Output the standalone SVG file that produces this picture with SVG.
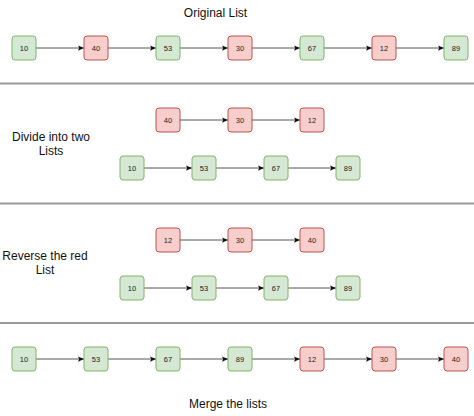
<svg xmlns="http://www.w3.org/2000/svg" width="474" height="416" viewBox="0 0 474 416">
<style>
.g rect{fill:#d5e8d4;stroke:#82b366;stroke-width:1}
.r rect{fill:#f8cecc;stroke:#b85450;stroke-width:1}
.n text{font-family:"Liberation Sans",Arial,sans-serif;font-size:7.5px;fill:#222;text-anchor:middle;dominant-baseline:central}
.lbl{font-family:"Liberation Sans",Arial,sans-serif;font-size:12px;fill:#111;text-anchor:middle}
.sep{stroke:#999;stroke-width:2}
.c line{stroke:#555;stroke-width:1;marker-end:url(#ah)}
</style>
<defs>
<marker id="ah" viewBox="0 0 8 8" refX="8" refY="4" markerWidth="6" markerHeight="6" markerUnits="userSpaceOnUse" orient="auto">
<path d="M0,0.5 L8,4 L0,7.5 L1.6,4 Z" fill="#111"/>
</marker>
</defs>
<rect width="474" height="416" fill="#fff"/>
<g id="separators">
<line class="sep" x1="0" y1="83.5" x2="474" y2="83.5"/>
<line class="sep" x1="0" y1="203.5" x2="474" y2="203.5"/>
<line class="sep" x1="0" y1="323" x2="474" y2="323"/>
</g>
<g id="labels">
<text class="lbl" x="215.5" y="17">Original List</text>
<text class="lbl" x="51" y="141">Divide into two</text>
<text class="lbl" x="51" y="155">Lists</text>
<text class="lbl" x="45" y="260">Reverse the red</text>
<text class="lbl" x="45" y="274">List</text>
<text class="lbl" x="228" y="408">Merge the lists</text>
</g>
<g id="connectors" class="c">
<line x1="36" y1="48" x2="84" y2="48"/>
<line x1="108" y1="48" x2="156" y2="48"/>
<line x1="180" y1="48" x2="228" y2="48"/>
<line x1="252" y1="48" x2="300" y2="48"/>
<line x1="324" y1="48" x2="372" y2="48"/>
<line x1="396" y1="48" x2="444" y2="48"/>
<line x1="180" y1="120" x2="228" y2="120"/>
<line x1="252" y1="120" x2="300" y2="120"/>
<line x1="144" y1="168" x2="192" y2="168"/>
<line x1="216" y1="168" x2="264" y2="168"/>
<line x1="288" y1="168" x2="336" y2="168"/>
<line x1="180" y1="240" x2="228" y2="240"/>
<line x1="252" y1="240" x2="300" y2="240"/>
<line x1="144" y1="288" x2="192" y2="288"/>
<line x1="216" y1="288" x2="264" y2="288"/>
<line x1="288" y1="288" x2="336" y2="288"/>
<line x1="36" y1="359" x2="84" y2="359"/>
<line x1="108" y1="359" x2="156" y2="359"/>
<line x1="180" y1="359" x2="228" y2="359"/>
<line x1="252" y1="359" x2="300" y2="359"/>
<line x1="324" y1="359" x2="372" y2="359"/>
<line x1="396" y1="359" x2="444" y2="359"/>
</g>
<g id="n1a" class="n g"><rect x="12" y="36" width="24" height="24" rx="3"/><text x="24" y="48">10</text></g>
<g id="n1b" class="n r"><rect x="84" y="36" width="24" height="24" rx="3"/><text x="96" y="48">40</text></g>
<g id="n1c" class="n g"><rect x="156" y="36" width="24" height="24" rx="3"/><text x="168" y="48">53</text></g>
<g id="n1d" class="n r"><rect x="228" y="36" width="24" height="24" rx="3"/><text x="240" y="48">30</text></g>
<g id="n1e" class="n g"><rect x="300" y="36" width="24" height="24" rx="3"/><text x="312" y="48">67</text></g>
<g id="n1f" class="n r"><rect x="372" y="36" width="24" height="24" rx="3"/><text x="384" y="48">12</text></g>
<g id="n1g" class="n g"><rect x="444" y="36" width="24" height="24" rx="3"/><text x="456" y="48">89</text></g>
<g id="n2a" class="n r"><rect x="156" y="108" width="24" height="24" rx="3"/><text x="168" y="120">40</text></g>
<g id="n2b" class="n r"><rect x="228" y="108" width="24" height="24" rx="3"/><text x="240" y="120">30</text></g>
<g id="n2c" class="n r"><rect x="300" y="108" width="24" height="24" rx="3"/><text x="312" y="120">12</text></g>
<g id="n2d" class="n g"><rect x="120" y="156" width="24" height="24" rx="3"/><text x="132" y="168">10</text></g>
<g id="n2e" class="n g"><rect x="192" y="156" width="24" height="24" rx="3"/><text x="204" y="168">53</text></g>
<g id="n2f" class="n g"><rect x="264" y="156" width="24" height="24" rx="3"/><text x="276" y="168">67</text></g>
<g id="n2g" class="n g"><rect x="336" y="156" width="24" height="24" rx="3"/><text x="348" y="168">89</text></g>
<g id="n3a" class="n r"><rect x="156" y="228" width="24" height="24" rx="3"/><text x="168" y="240">12</text></g>
<g id="n3b" class="n r"><rect x="228" y="228" width="24" height="24" rx="3"/><text x="240" y="240">30</text></g>
<g id="n3c" class="n r"><rect x="300" y="228" width="24" height="24" rx="3"/><text x="312" y="240">40</text></g>
<g id="n3d" class="n g"><rect x="120" y="276" width="24" height="24" rx="3"/><text x="132" y="288">10</text></g>
<g id="n3e" class="n g"><rect x="192" y="276" width="24" height="24" rx="3"/><text x="204" y="288">53</text></g>
<g id="n3f" class="n g"><rect x="264" y="276" width="24" height="24" rx="3"/><text x="276" y="288">67</text></g>
<g id="n3g" class="n g"><rect x="336" y="276" width="24" height="24" rx="3"/><text x="348" y="288">89</text></g>
<g id="n4a" class="n g"><rect x="12" y="347" width="24" height="24" rx="3"/><text x="24" y="359">10</text></g>
<g id="n4b" class="n g"><rect x="84" y="347" width="24" height="24" rx="3"/><text x="96" y="359">53</text></g>
<g id="n4c" class="n g"><rect x="156" y="347" width="24" height="24" rx="3"/><text x="168" y="359">67</text></g>
<g id="n4d" class="n g"><rect x="228" y="347" width="24" height="24" rx="3"/><text x="240" y="359">89</text></g>
<g id="n4e" class="n r"><rect x="300" y="347" width="24" height="24" rx="3"/><text x="312" y="359">12</text></g>
<g id="n4f" class="n r"><rect x="372" y="347" width="24" height="24" rx="3"/><text x="384" y="359">30</text></g>
<g id="n4g" class="n r"><rect x="444" y="347" width="24" height="24" rx="3"/><text x="456" y="359">40</text></g>
</svg>
